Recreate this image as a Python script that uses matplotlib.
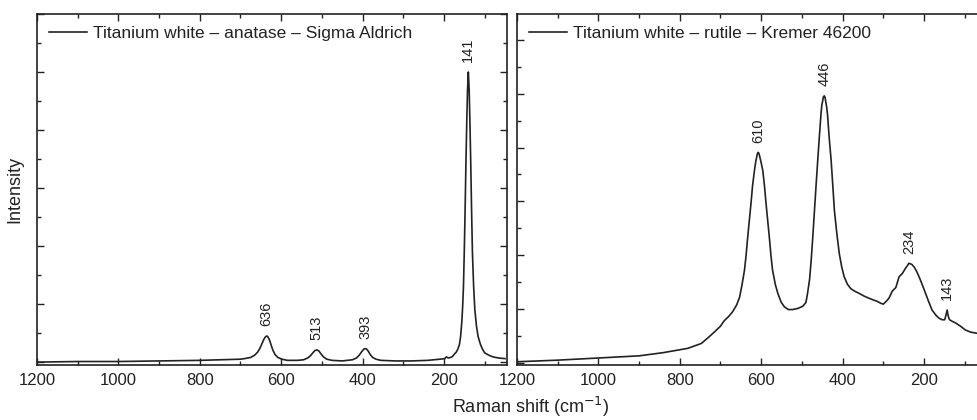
import matplotlib
matplotlib.use("Agg")
import matplotlib.pyplot as plt
from matplotlib.ticker import MultipleLocator, NullFormatter

plt.rcParams['font.family'] = ['Liberation Sans', 'DejaVu Sans']

# anatase spectrum (arbitrary intensity units)
anatase_x = [1200, 1100, 1000, 900, 800, 750, 700, 690, 675, 665, 658, 652,
             647, 642, 638, 635, 632, 628, 624, 620, 615, 608, 598, 585, 560,
             545, 535, 528, 522, 517, 512, 507, 502, 496, 488, 475, 450, 425,
             415, 408, 402, 396, 391, 386, 381, 375, 367, 355, 320, 280, 240,
             210, 198, 194, 189, 180, 174, 170, 166, 162, 159, 156, 154, 152,
             150, 148, 146, 144, 142, 140, 138, 136, 134, 132, 130, 127, 124,
             120, 116, 110, 105, 100, 90, 80, 65, 50]
anatase_y = [0.0, 0.01, 0.01, 0.02, 0.03, 0.04, 0.05, 0.06, 0.08, 0.12, 0.17,
             0.24, 0.32, 0.4, 0.44, 0.45, 0.43, 0.37, 0.28, 0.2, 0.13, 0.08,
             0.05, 0.03, 0.03, 0.04, 0.07, 0.11, 0.16, 0.2, 0.21, 0.19, 0.14,
             0.09, 0.05, 0.03, 0.02, 0.04, 0.07, 0.12, 0.18, 0.23, 0.23, 0.19,
             0.13, 0.08, 0.05, 0.03, 0.02, 0.02, 0.03, 0.05, 0.06, 0.09, 0.07,
             0.09, 0.14, 0.17, 0.22, 0.3, 0.44, 0.7, 0.95, 1.3, 1.9, 2.6, 3.4,
             4.1, 4.7, 5.0, 4.7, 4.1, 3.4, 2.6, 1.9, 1.3, 0.9, 0.62, 0.44, 0.3,
             0.22, 0.16, 0.12, 0.09, 0.07, 0.06]

# rutile spectrum
rutile_x = [1200, 1100, 1000, 900, 840, 780, 747, 727, 714, 700, 691, 680,
            670, 660, 653, 647, 641, 637, 633, 629, 625, 621, 616, 613, 609,
            607, 605, 600, 596, 592, 588, 584, 580, 576, 572, 565, 559, 551,
            543, 533, 523, 510, 498, 490, 486, 481, 477, 473, 469, 465, 461,
            457, 453, 451, 447, 445, 443, 439, 437, 433, 428, 424, 420, 414,
            408, 402, 396, 388, 380, 370, 359, 347, 335, 325, 314, 307, 300,
            293, 286, 278, 269, 261, 253, 245, 241, 237, 230, 224, 218, 212,
            204, 196, 188, 180, 170, 163, 155, 149, 146, 143, 140, 137, 130,
            122, 110, 98, 85, 70, 50]
rutile_y = [0.02, 0.05, 0.09, 0.13, 0.19, 0.27, 0.36, 0.49, 0.58, 0.68, 0.78,
            0.86, 0.95, 1.08, 1.22, 1.45, 1.72, 2.0, 2.34, 2.65, 2.96, 3.3,
            3.6, 3.75, 3.89, 3.91, 3.88, 3.72, 3.57, 3.3, 2.96, 2.65, 2.34,
            2.0, 1.72, 1.45, 1.29, 1.13, 1.04, 0.99, 0.99, 1.01, 1.05, 1.12,
            1.29, 1.55, 1.91, 2.35, 2.83, 3.3, 3.76, 4.2, 4.62, 4.78, 4.94,
            4.96, 4.93, 4.75, 4.62, 4.2, 3.76, 3.3, 2.83, 2.4, 2.03, 1.78, 1.6,
            1.46, 1.38, 1.33, 1.29, 1.24, 1.2, 1.17, 1.14, 1.11, 1.09, 1.14,
            1.2, 1.33, 1.4, 1.6, 1.66, 1.76, 1.8, 1.85, 1.83, 1.78, 1.7, 1.6,
            1.45, 1.29, 1.13, 0.98, 0.88, 0.83, 0.8, 0.8, 0.88, 0.98, 0.86,
            0.8, 0.77, 0.74, 0.68, 0.61, 0.57, 0.55, 0.53]

anatase_peaks = [636, 513, 393, 140]
anatase_labels = ['636', '513', '393', '141']
anatase_peak_y = [0.45, 0.21, 0.23, 5.0]

rutile_peaks = [607, 445, 237, 143]
rutile_labels = ['610', '446', '234', '143']
rutile_peak_y = [3.91, 4.96, 1.85, 0.98]

ink = '#222222'

fig = plt.figure(figsize=(9.77, 4.2), dpi=100)
ax1 = fig.add_axes([37 / 977, 55 / 420, 470 / 977, 351 / 420])
ax2 = fig.add_axes([517 / 977, 55 / 420, 470 / 977, 351 / 420])


def style(ax, ylim, major, minor):
    ax.set_xlim(1200, 45)
    ax.set_ylim(*ylim)
    ax.xaxis.set_major_locator(MultipleLocator(200))
    ax.xaxis.set_minor_locator(MultipleLocator(100))
    ax.yaxis.set_major_locator(MultipleLocator(major))
    ax.yaxis.set_minor_locator(MultipleLocator(minor))
    ax.yaxis.set_major_formatter(NullFormatter())
    ax.tick_params(which='both', direction='in', top=True, right=True,
                   color=ink, labelcolor=ink, labelsize=12, width=1)
    ax.tick_params(which='major', length=5)
    ax.tick_params(which='minor', length=3)
    ax.tick_params(axis='x', pad=6)
    for s in ax.spines.values():
        s.set_color(ink)
        s.set_linewidth(1.2)


style(ax1, (-0.05, 6.0), 1, 0.5)
style(ax2, (-0.04, 6.48), 1, 0.5)

ax1.plot(anatase_x, anatase_y, color=ink, lw=1.2,
         label='Titanium white – anatase – Sigma Aldrich')
ax2.plot(rutile_x, rutile_y, color=ink, lw=1.2,
         label='Titanium white – rutile – Kremer 46200')

for ax, xs, ys, labs in [(ax1, anatase_peaks, anatase_peak_y, anatase_labels),
                         (ax2, rutile_peaks, rutile_peak_y, rutile_labels)]:
    for x, y, t in zip(xs, ys, labs):
        ax.annotate(t, (x, y), xytext=(0, 7), textcoords='offset points',
                    rotation=90, ha='center', va='bottom', fontsize=10.5,
                    color=ink)
    ax.legend(loc='upper left', frameon=False, fontsize=12.5,
              handlelength=2.2, handletextpad=0.3, borderaxespad=0.3,
              labelcolor=ink)

ax1.set_ylabel('Intensity', fontsize=13, color=ink, labelpad=6)
fig.text(531 / 977, 1 / 420, 'Raman shift (cm$^{-1}$)', fontsize=13,
         color=ink, ha='center', va='bottom')

fig.savefig('out.png', dpi=100)
